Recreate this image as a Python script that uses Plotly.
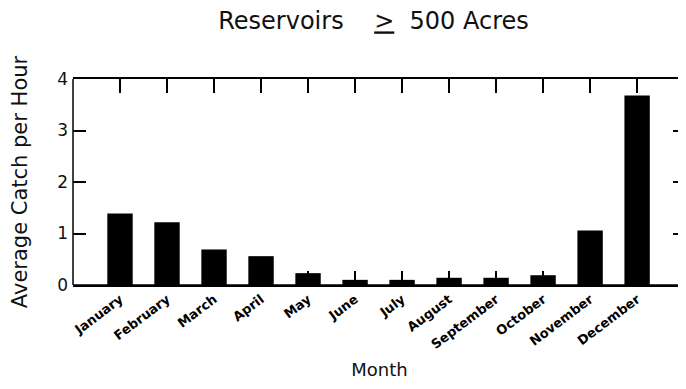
import plotly.graph_objects as go

months = ["January", "February", "March", "April", "May", "June", "July",
          "August", "September", "October", "November", "December"]
catch_per_hour = [1.39, 1.22, 0.69, 0.56, 0.23, 0.10, 0.10, 0.14, 0.14, 0.19, 1.06, 3.68]
y_ticks = [0, 1, 2, 3, 4]

W, H = 678, 381  # page body adds an 8px offset

fig = go.Figure(
    go.Bar(
        x=months,
        y=catch_per_hour,
        width=0.54,
        marker=dict(color="black", line=dict(width=0)),
    )
)

fig.update_layout(
    width=W,
    height=H,
    margin=dict(l=65, r=0, t=71, b=104),
    paper_bgcolor="white",
    plot_bgcolor="white",
    showlegend=False,
    title=dict(
        text="Reservoirs    <u>&gt;</u>  500 Acres",
        font=dict(family="DejaVu Sans", size=24, color="#111"),
        x=365.5 / W,
        xref="container",
        xanchor="center",
        y=1 - 13 / H,
        yref="container",
        yanchor="middle",
    ),
    xaxis=dict(
        type="category",
        range=[-1, 12.04],
        automargin=False,
        showgrid=False,
        showline=True,
        linecolor="black",
        linewidth=1.5,
        mirror="ticks",
        ticks="inside",
        ticklen=14,
        tickwidth=1.5,
        tickcolor="black",
        tickangle=-37,
        tickfont=dict(family="DejaVu Sans", size=13, color="black", weight="bold"),
        layer="below traces",
        title=dict(text="Month", font=dict(family="DejaVu Sans", size=18, color="#111"), standoff=12),
    ),
    yaxis=dict(
        range=[0, 4],
        tickvals=y_ticks,
        automargin=False,
        showgrid=False,
        zeroline=False,
        showline=False,
        mirror="ticks",
        ticks="inside",
        ticklen=13,
        tickwidth=1.5,
        tickcolor="black",
        tickfont=dict(family="DejaVu Sans", size=17, color="#111"),
        ticklabelstandoff=4,
        layer="below traces",
        title=dict(text="Average Catch per Hour", font=dict(family="DejaVu Sans", size=21, color="#111"), standoff=23),
    ),
    shapes=[
        dict(type="line", xref="paper", yref="paper", x0=0, x1=0, y0=0, y1=1,
             line=dict(color="black", width=1.5), layer="above"),
        dict(type="line", xref="paper", yref="paper", x0=0, x1=1, y0=0, y1=0,
             line=dict(color="black", width=1.5), layer="above"),
    ],
)

fig.write_html("out.html")
